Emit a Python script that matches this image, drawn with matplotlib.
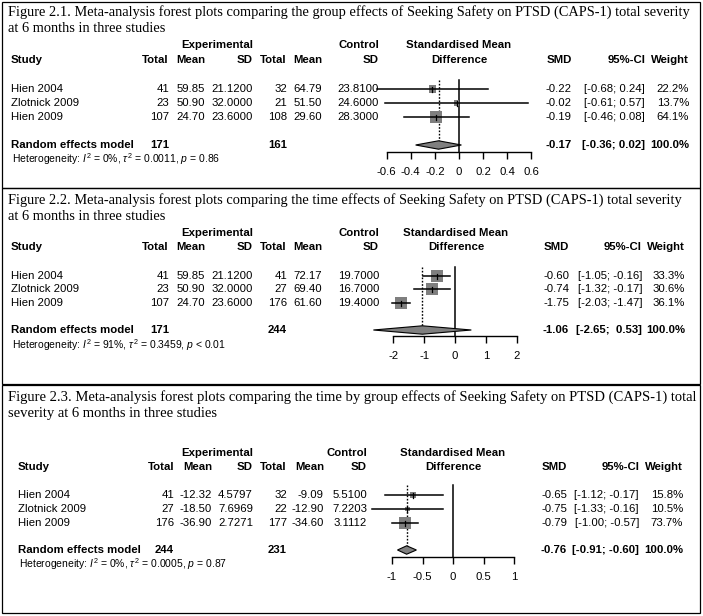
import numpy as np
import matplotlib.pyplot as plt
from matplotlib.patches import Rectangle, Polygon

plt.rcParams['font.family'] = ['Liberation Sans', 'DejaVu Sans']
plt.rcParams['mathtext.fontset'] = 'custom'
plt.rcParams['mathtext.rm'] = 'Liberation Sans'
plt.rcParams['mathtext.it'] = 'Liberation Sans:italic'
plt.rcParams['mathtext.bf'] = 'Liberation Sans:bold'
plt.rcParams['axes.unicode_minus'] = False

W, H = 703, 616

studies = ['Hien 2004', 'Zlotnick 2009', 'Hien 2009']

# Figure 2.1 - group effects
title_1 = ['Figure 2.1. Meta-analysis forest plots comparing the group effects of Seeking Safety on PTSD (CAPS-1) total severity',
           'at 6 months in three studies']
exp_n_1 = [41, 23, 107]
exp_mean_1 = [59.85, 50.90, 24.70]
exp_sd_1 = [21.12, 32.00, 23.60]
ctl_n_1 = [32, 21, 108]
ctl_mean_1 = [64.79, 51.50, 29.60]
ctl_sd_1 = [23.81, 24.60, 28.30]
smd_1 = [-0.22, -0.02, -0.19]
ci_lo_1 = [-0.68, -0.61, -0.46]
ci_hi_1 = [0.24, 0.57, 0.08]
weight_1 = [22.2, 13.7, 64.1]
pooled_1 = [-0.17, -0.36, 0.02]
het_1 = ['0%', '0.0011', '= 0.86']
ticks_1 = [-0.6, -0.4, -0.2, 0, 0.2, 0.4, 0.6]

# Figure 2.2 - time effects
title_2 = ['Figure 2.2. Meta-analysis forest plots comparing the time effects of Seeking Safety on PTSD (CAPS-1) total severity',
           'at 6 months in three studies']
exp_n_2 = [41, 23, 107]
exp_mean_2 = [59.85, 50.90, 24.70]
exp_sd_2 = [21.12, 32.00, 23.60]
ctl_n_2 = [41, 27, 176]
ctl_mean_2 = [72.17, 69.40, 61.60]
ctl_sd_2 = [19.70, 16.70, 19.40]
smd_2 = [-0.60, -0.74, -1.75]
ci_lo_2 = [-1.05, -1.32, -2.03]
ci_hi_2 = [-0.16, -0.17, -1.47]
weight_2 = [33.3, 30.6, 36.1]
pooled_2 = [-1.06, -2.65, 0.53]
het_2 = ['91%', '0.3459', '< 0.01']
ticks_2 = [-2, -1, 0, 1, 2]

# Figure 2.3 - time by group effects
title_3 = ['Figure 2.3. Meta-analysis forest plots comparing the time by group effects of Seeking Safety on PTSD (CAPS-1) total',
           'severity at 6 months in three studies']
exp_n_3 = [41, 27, 176]
exp_mean_3 = [-12.32, -18.50, -36.90]
exp_sd_3 = [4.5797, 7.6969, 2.7271]
ctl_n_3 = [32, 22, 177]
ctl_mean_3 = [-9.09, -12.90, -34.60]
ctl_sd_3 = [5.5100, 7.2203, 3.1112]
smd_3 = [-0.65, -0.75, -0.79]
ci_lo_3 = [-1.12, -1.33, -1.00]
ci_hi_3 = [-0.17, -0.16, -0.57]
weight_3 = [15.8, 10.5, 73.7]
pooled_3 = [-0.76, -0.91, -0.60]
het_3 = ['0%', '0.0005', '= 0.87']
ticks_3 = [-1, -0.5, 0, 0.5, 1]

FS = 8.2


def fmt_ci(lo, hi, lo_w, hi_w):
    return '[{}; {}]'.format(('%.2f' % lo).rjust(lo_w), ('%.2f' % hi).rjust(hi_w))


def draw_panel(fig, bg, d, lay):
    x0, y0, x1, y1 = lay['box']
    bg.add_patch(Rectangle((x0, y0), x1 - x0, y1 - y0, fill=False, ec='black', lw=0.9))
    for t, ty in zip(d['title'], lay['title_y']):
        bg.text(8, ty, t, family='Liberation Serif', fontsize=lay['title_fs'], va='center', ha='left')

    sx = lay['study_x']
    cr = lay['cols']
    hy1, hy2 = lay['hdr_y']
    bold = dict(fontsize=FS, fontweight='bold', va='center')
    bg.text(cr[2], hy1, 'Experimental', ha='right', **bold)
    bg.text(cr[5], hy1, 'Control', ha='right', **bold)
    bg.text(sx, hy2, 'Study', ha='left', **bold)
    for c, lab in zip(cr, ['Total', 'Mean', 'SD', 'Total', 'Mean', 'SD']):
        bg.text(c, hy2, lab, ha='right', **bold)
    bg.text(lay['smd_c'], hy1, 'Standardised Mean', ha='center', **bold)
    bg.text(lay['smd_c'], hy2, 'Difference', ha='center', **bold)
    rc = lay['right']
    for c, lab in zip(rc, ['SMD', '95%-CI', 'Weight']):
        bg.text(c, hy2, lab, ha='right', **bold)

    los = ['%.2f' % v for v in d['ci_lo'] + [d['pooled'][1]]]
    his = ['%.2f' % v for v in d['ci_hi'] + [d['pooled'][2]]]
    lo_w = max(len(s) for s in los)
    hi_w = max(len(s) for s in his)

    norm = dict(fontsize=FS, va='center')
    for i, ry in enumerate(lay['rows']):
        bg.text(sx, ry, studies[i], ha='left', **norm)
        vals = [str(d['exp_n'][i]), '%.2f' % d['exp_mean'][i], '%.4f' % d['exp_sd'][i],
                str(d['ctl_n'][i]), '%.2f' % d['ctl_mean'][i], '%.4f' % d['ctl_sd'][i]]
        for c, v in zip(cr, vals):
            bg.text(c, ry, v, ha='right', **norm)
        rvals = ['%.2f' % d['smd'][i], fmt_ci(d['ci_lo'][i], d['ci_hi'][i], lo_w, hi_w),
                 '%.1f%%' % d['weight'][i]]
        for c, v in zip(rc, rvals):
            bg.text(c, ry, v, ha='right', **norm)

    sy = lay['sum_y']
    bg.text(sx, sy, 'Random effects model', ha='left', **bold)
    bg.text(cr[0], sy, str(sum(d['exp_n'])), ha='right', **bold)
    bg.text(cr[3], sy, str(sum(d['ctl_n'])), ha='right', **bold)
    p = d['pooled']
    rvals = ['%.2f' % p[0], fmt_ci(p[1], p[2], lo_w, hi_w), '100.0%']
    for c, v in zip(rc, rvals):
        bg.text(c, sy, v, ha='right', **bold)
    h = d['het']
    bg.text(sx + 1, lay['het_y'],
            r'Heterogeneity: $I^2$ = %s, $\tau^2$ = %s, $p$ %s' % (h[0], h[1], h[2]),
            fontsize=7.5, va='center', ha='left')

    # forest axes
    ticks = d['ticks']
    zero, unit = lay['zero'], lay['unit']
    top, base = lay['top'], lay['base']
    left_px = zero + ticks[0] * unit
    right_px = zero + ticks[-1] * unit
    ax = fig.add_axes([left_px / W, 1 - base / H, (right_px - left_px) / W, (base - top) / H])
    ax.set_xlim(ticks[0], ticks[-1])
    ax.set_ylim(base, top)
    ax.patch.set_alpha(0)
    for s in ['top', 'left', 'right']:
        ax.spines[s].set_visible(False)
    ax.spines['bottom'].set_linewidth(1.0)
    ax.set_yticks([])
    ax.set_xticks(ticks)
    ax.set_xticklabels(['%g' % t for t in ticks], fontsize=FS)
    ax.tick_params(axis='x', length=5, width=1.0, pad=6)

    ax.plot([0, 0], [top, base], color='black', lw=1.1, clip_on=False)
    half = 4.2
    ax.plot([p[0], p[0]], [top, sy - half], color='black', lw=1.0, ls=(0, (1.2, 1.2)), clip_on=False)

    wmax = max(d['weight'])
    for i, ry in enumerate(lay['rows']):
        side = 12.5 * np.sqrt(d['weight'][i] / wmax)
        ax.add_patch(Rectangle((d['smd'][i] - side / 2 / unit, ry - side / 2), side / unit, side,
                               facecolor='#7f7f7f', edgecolor='none', clip_on=False, zorder=2))
        ax.plot([d['ci_lo'][i], d['ci_hi'][i]], [ry, ry], color='black', lw=1.1, clip_on=False, zorder=3)
        ax.plot([d['smd'][i]] * 2, [ry - 2.5, ry + 2.5], color='black', lw=0.9, clip_on=False, zorder=3)

    ax.add_patch(Polygon([(p[1], sy), (p[0], sy - half), (p[2], sy), (p[0], sy + half)],
                         closed=True, facecolor='#7f7f7f', edgecolor='black', lw=0.8,
                         clip_on=False, zorder=3))


panel_1 = dict(title=title_1, exp_n=exp_n_1, exp_mean=exp_mean_1, exp_sd=exp_sd_1,
               ctl_n=ctl_n_1, ctl_mean=ctl_mean_1, ctl_sd=ctl_sd_1, smd=smd_1,
               ci_lo=ci_lo_1, ci_hi=ci_hi_1, weight=weight_1, pooled=pooled_1,
               het=het_1, ticks=ticks_1)
panel_2 = dict(title=title_2, exp_n=exp_n_2, exp_mean=exp_mean_2, exp_sd=exp_sd_2,
               ctl_n=ctl_n_2, ctl_mean=ctl_mean_2, ctl_sd=ctl_sd_2, smd=smd_2,
               ci_lo=ci_lo_2, ci_hi=ci_hi_2, weight=weight_2, pooled=pooled_2,
               het=het_2, ticks=ticks_2)
panel_3 = dict(title=title_3, exp_n=exp_n_3, exp_mean=exp_mean_3, exp_sd=exp_sd_3,
               ctl_n=ctl_n_3, ctl_mean=ctl_mean_3, ctl_sd=ctl_sd_3, smd=smd_3,
               ci_lo=ci_lo_3, ci_hi=ci_hi_3, weight=weight_3, pooled=pooled_3,
               het=het_3, ticks=ticks_3)

layout_1 = dict(box=(2, 2, 700, 188), title_y=(12, 28), title_fs=10.35, hdr_y=(45, 60),
                rows=(89, 103, 117), sum_y=145, het_y=159, study_x=11,
                cols=[169, 205, 253, 287, 322, 379], right=[572, 645, 689],
                smd_c=459, zero=459, unit=120.5, top=80, base=152)
layout_2 = dict(box=(2, 188, 700, 384), title_y=(200, 216), title_fs=10.35, hdr_y=(233, 247),
                rows=(276, 289, 303), sum_y=330, het_y=345, study_x=11,
                cols=[169, 205, 253, 287, 322, 379], right=[569, 642, 685],
                smd_c=456, zero=455, unit=30.8, top=267, base=336)
layout_3 = dict(box=(2, 385, 700, 613), title_y=(397, 413), title_fs=10.5, hdr_y=(453, 467),
                rows=(495, 509, 523), sum_y=550, het_y=564, study_x=18,
                cols=[174, 212, 253, 287, 324, 367], right=[567, 639, 683],
                smd_c=453, zero=453, unit=61, top=485, base=557)

fig = plt.figure(figsize=(W / 100, H / 100), dpi=100)
bg = fig.add_axes([0, 0, 1, 1])
bg.set_xlim(0, W)
bg.set_ylim(H, 0)
bg.axis('off')

draw_panel(fig, bg, panel_1, layout_1)
draw_panel(fig, bg, panel_2, layout_2)
draw_panel(fig, bg, panel_3, layout_3)

fig.savefig('out.png', dpi=100)
